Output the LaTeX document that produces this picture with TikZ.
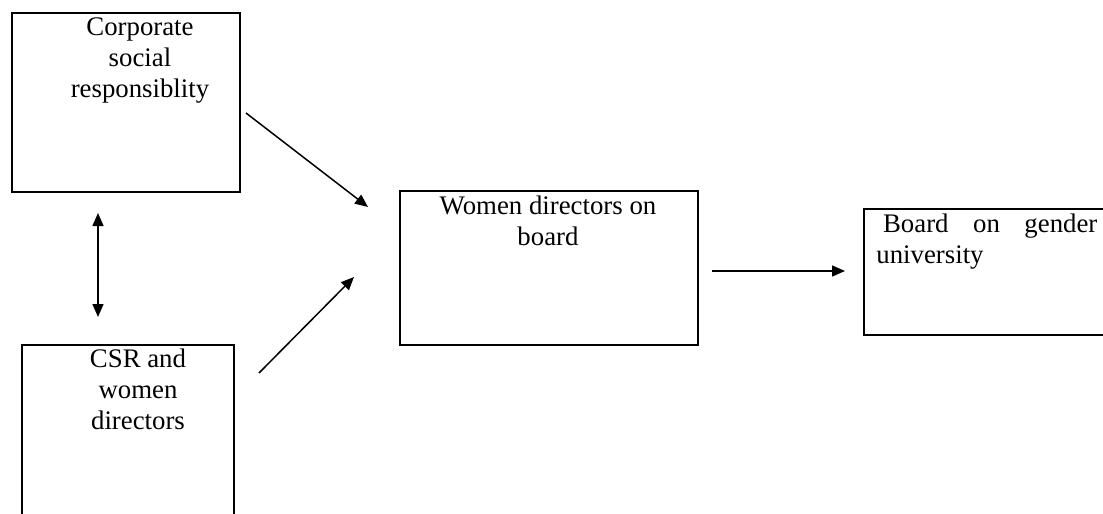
\documentclass[tikz,border=0pt]{standalone}
\usepackage{fontspec}
\setmainfont{Liberation Serif}
\usetikzlibrary{arrows.meta}
\begin{document}
\begin{tikzpicture}[x=0.5pt,y=-0.5pt,
  box/.style={draw=black,line width=0.85pt,inner sep=0pt,anchor=north west},
  lbl/.style={inner sep=0pt,anchor=base,align=center,font=\fontsize{13.4pt}{15.3pt}\selectfont},
  conn/.style={draw=black,line width=0.75pt,-{Triangle[length=6.5pt,width=5.5pt]}},
  both/.style={draw=black,line width=0.75pt,{Triangle[length=6.5pt,width=5.5pt]}-{Triangle[length=6.5pt,width=5.5pt]}}]
\useasboundingbox (0,0) rectangle (1103,514);
\path[fill=white] (0,0) rectangle (1103,514);
% boxes
\node[box,minimum width=114pt,minimum height=89.5pt] (csr) at (11,12) {};
\node[box,minimum width=106pt,minimum height=88pt] (csrw) at (21,344) {};
\node[box,minimum width=149pt,minimum height=77pt] (wdb) at (399,190) {};
\node[box,minimum width=125pt,minimum height=63pt] (bgu) at (863,208) {};
% texts (anchor at baseline of last line)
\node[lbl] (t1) at (140,97) {Corporate\\social\\responsiblity};
\node[lbl] (t2) at (138,429) {CSR and\\women\\directors};
\node[lbl] (t3) at (548,245) {Women directors on\\board};
\node[lbl,align=left,anchor=base west] (t4) at (876,263) {\makebox[110.5pt][s]{\ Board \hfill on \hfill gender}\\university};
% connector ends
\coordinate (a1) at (246,113);
\coordinate (a2) at (368,207);
\coordinate (b1) at (259,373);
\coordinate (b2) at (354,277);
\coordinate (c1) at (98,213);
\coordinate (c2) at (98,317);
\coordinate (d1) at (712,271);
\coordinate (d2) at (845,271);
\draw[conn] (a1) -- (a2);
\draw[conn] (b1) -- (b2);
\draw[both] (c1) -- (c2);
\draw[conn] (d1) -- (d2);
\end{tikzpicture}
\end{document}
